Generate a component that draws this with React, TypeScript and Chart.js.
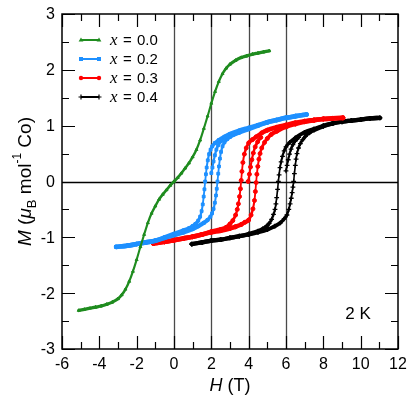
import React, { useEffect, useRef } from "react";
import { Chart, registerables } from "chart.js";
Chart.register(...registerables);

// ---- axis / labels ----
const X_MIN = -6, X_MAX = 12, Y_MIN = -3, Y_MAX = 3;
const X_TICKS = [-6, -4, -2, 0, 2, 4, 6, 8, 10, 12];
const Y_TICKS = [-3, -2, -1, 0, 1, 2, 3];
const REF_H = [0, 2, 4, 6];
const LEGEND_LABELS = ["0.0", "0.2", "0.3", "0.4"];
const COLORS = ["#1f8c1f", "#1e90ff", "#ff0000", "#000000"];
const ANNOTATION = "2 K";

// ---- x = 0.0 (green) ----
const GREEN_H = [-5.1, -4.8, -4.5, -4.2, -3.9, -3.6, -3.3, -3.0, -2.8, -2.6, -2.4, -2.2, -2.0, -1.8, -1.6, -1.4, -1.2, -1.0, -0.8, -0.6, -0.4, -0.2, 0, 0.2, 0.4, 0.6, 0.8, 1.0, 1.2, 1.4, 1.6, 1.8, 2.0, 2.2, 2.4, 2.6, 2.8, 3.0, 3.3, 3.6, 3.9, 4.2, 4.5, 4.8, 5.1];
const GREEN_M = [-2.31, -2.29, -2.27, -2.25, -2.23, -2.20, -2.16, -2.10, -2.03, -1.93, -1.79, -1.61, -1.40, -1.17, -0.95, -0.74, -0.57, -0.44, -0.32, -0.23, -0.15, -0.07, 0, 0.07, 0.15, 0.24, 0.33, 0.44, 0.57, 0.74, 0.95, 1.17, 1.40, 1.61, 1.79, 1.93, 2.03, 2.10, 2.17, 2.22, 2.25, 2.28, 2.30, 2.32, 2.34];

// ---- x = 0.2 (blue) ----
const BLUE_UPPER_H = [-3.1, -2.5, -2.0, -1.5, -1.0, -0.5, 0.0, 0.5, 0.8, 1.0, 1.15, 1.3, 1.4, 1.48, 1.54, 1.59, 1.63, 1.67, 1.71, 1.75, 1.81, 1.88, 1.96, 2.05, 2.2, 2.4, 2.7, 3.0, 3.5, 4.0, 4.5, 5.0, 5.5, 6.0, 6.5, 7.1];
const BLUE_UPPER_M = [-1.17, -1.15, -1.12, -1.09, -1.06, -1.0, -0.94, -0.88, -0.84, -0.80, -0.76, -0.70, -0.63, -0.53, -0.41, -0.27, -0.14, 0.0, 0.13, 0.25, 0.38, 0.49, 0.57, 0.63, 0.69, 0.74, 0.80, 0.85, 0.91, 0.96, 1.01, 1.06, 1.10, 1.14, 1.17, 1.20];
const BLUE_LOWER_H = [-3.1, -2.5, -2.0, -1.5, -1.0, -0.5, 0.0, 0.5, 1.0, 1.3, 1.6, 1.8, 1.95, 2.04, 2.12, 2.19, 2.25, 2.29, 2.33, 2.37, 2.41, 2.46, 2.52, 2.6, 2.7, 2.85, 3.0, 3.2, 3.5, 4.0, 4.5, 5.0, 5.5, 6.0, 6.5, 7.1];
const BLUE_LOWER_M = [-1.17, -1.15, -1.12, -1.09, -1.06, -1.01, -0.96, -0.91, -0.85, -0.80, -0.74, -0.69, -0.63, -0.57, -0.49, -0.38, -0.25, -0.13, 0.0, 0.14, 0.27, 0.41, 0.53, 0.63, 0.70, 0.76, 0.80, 0.84, 0.88, 0.94, 1.0, 1.06, 1.10, 1.14, 1.17, 1.20];
const BLUE_VIRGIN_H = [2.0, 2.06, 2.12, 2.19, 2.27, 2.37, 2.5, 2.65];
const BLUE_VIRGIN_M = [0.15, 0.25, 0.36, 0.47, 0.57, 0.65, 0.72, 0.77];

// ---- x = 0.3 (red) ----
const RED_UPPER_H = [-1.1, -0.5, 0.0, 0.5, 1.0, 1.5, 2.0, 2.5, 2.8, 3.0, 3.15, 3.3, 3.39, 3.45, 3.51, 3.56, 3.6, 3.64, 3.69, 3.77, 3.87, 4.0, 4.2, 4.4, 4.7, 5.0, 5.5, 6.0, 6.5, 7.0, 7.5, 8.0, 8.5, 9.05];
const RED_UPPER_M = [-1.11, -1.08, -1.05, -1.02, -0.99, -0.95, -0.90, -0.86, -0.82, -0.76, -0.70, -0.60, -0.50, -0.40, -0.27, -0.13, 0.02, 0.18, 0.34, 0.49, 0.60, 0.69, 0.75, 0.80, 0.87, 0.92, 0.97, 1.01, 1.05, 1.08, 1.10, 1.12, 1.13, 1.14];
const RED_LOWER_H = [-1.1, -0.5, 0.0, 0.5, 1.0, 1.5, 2.0, 2.5, 3.0, 3.3, 3.6, 3.8, 4.0, 4.13, 4.23, 4.31, 4.36, 4.4, 4.44, 4.49, 4.55, 4.61, 4.7, 4.85, 5.0, 5.2, 5.5, 6.0, 6.5, 7.0, 7.5, 8.0, 8.5, 9.05];
const RED_LOWER_M = [-1.11, -1.08, -1.05, -1.02, -0.99, -0.95, -0.91, -0.88, -0.84, -0.81, -0.77, -0.73, -0.69, -0.60, -0.49, -0.34, -0.18, -0.02, 0.13, 0.27, 0.40, 0.50, 0.60, 0.70, 0.77, 0.84, 0.90, 0.98, 1.03, 1.07, 1.10, 1.12, 1.13, 1.14];
const RED_VIRGIN_H = [3.97, 4.04, 4.1, 4.17, 4.25, 4.35, 4.48, 4.65];
const RED_VIRGIN_M = [0.0, 0.13, 0.26, 0.39, 0.51, 0.62, 0.71, 0.79];

// ---- x = 0.4 (black) ----
const BLACK_UPPER_H = [0.95, 1.5, 2.0, 2.5, 3.0, 3.5, 4.0, 4.5, 4.75, 4.96, 5.1, 5.23, 5.33, 5.41, 5.46, 5.5, 5.55, 5.59, 5.63, 5.68, 5.74, 5.81, 5.9, 6.0, 6.2, 6.5, 7.0, 7.5, 8.0, 8.5, 9.0, 9.5, 10.0, 10.5, 11.03];
const BLACK_UPPER_M = [-1.12, -1.09, -1.06, -1.04, -1.01, -0.98, -0.94, -0.89, -0.85, -0.80, -0.75, -0.68, -0.59, -0.50, -0.40, -0.29, -0.14, 0.0, 0.12, 0.25, 0.35, 0.45, 0.55, 0.62, 0.70, 0.78, 0.88, 0.94, 1.0, 1.04, 1.07, 1.09, 1.11, 1.13, 1.14];
const BLACK_LOWER_H = [0.95, 1.5, 2.0, 2.5, 3.0, 3.5, 4.0, 4.5, 5.0, 5.4, 5.7, 5.9, 6.05, 6.15, 6.22, 6.28, 6.33, 6.37, 6.41, 6.45, 6.5, 6.54, 6.59, 6.67, 6.77, 6.9, 7.04, 7.25, 7.5, 8.0, 8.5, 9.0, 9.5, 10.0, 10.5, 11.03];
const BLACK_LOWER_M = [-1.12, -1.09, -1.06, -1.04, -1.01, -0.98, -0.95, -0.91, -0.86, -0.80, -0.74, -0.67, -0.60, -0.50, -0.40, -0.30, -0.20, -0.10, 0.0, 0.14, 0.29, 0.40, 0.50, 0.60, 0.68, 0.75, 0.81, 0.87, 0.92, 0.99, 1.04, 1.07, 1.09, 1.11, 1.13, 1.14];
const BLACK_VIRGIN_H = [6.0, 6.06, 6.12, 6.19, 6.27, 6.37, 6.5, 6.68];
const BLACK_VIRGIN_M = [0.19, 0.29, 0.39, 0.49, 0.58, 0.66, 0.73, 0.79];

const SANS = "'Liberation Sans', Arial, Helvetica, sans-serif";
const SERIF = "'Liberation Serif', 'Times New Roman', serif";
const POINT_STYLES = ["triangle", "rect", "circle", "cross"];

function pts(h: number[], m: number[]) {
  return h.map((v, i) => ({ x: v, y: m[i] }));
}

function mk(series: number, h: number[], m: number[], thin: number, extra: number, radius: number) {
  const color = COLORS[series];
  return {
    data: pts(h, m),
    showLine: true,
    borderColor: color,
    backgroundColor: color,
    pointStyle: POINT_STYLES[series],
    pointRadius: radius,
    pointBorderWidth: series === 3 ? 1.3 : 1,
    pointBorderColor: color,
    pointBackgroundColor: color,
    cubicInterpolationMode: "monotone",
    borderCapStyle: "round",
    borderJoinStyle: "round",
    segment: {
      borderWidth: (ctx: any) => {
        const dx = Math.abs(ctx.p1.x - ctx.p0.x);
        const dy = Math.abs(ctx.p1.y - ctx.p0.y);
        const len = Math.hypot(dx, dy) || 1;
        return thin + extra * (dx / len);
      },
    },
  };
}

function drawRich(ctx: CanvasRenderingContext2D, pieces: { t: string; f: string; dy: number }[], cx: number) {
  let total = 0;
  for (const p of pieces) { ctx.font = p.f; total += ctx.measureText(p.t).width; }
  let x = cx - total / 2;
  for (const p of pieces) {
    ctx.font = p.f;
    ctx.fillText(p.t, x, p.dy);
    x += ctx.measureText(p.t).width;
  }
}

const decor = {
  id: "decor",
  beforeDatasetsDraw(chart: any) {
    const { ctx, chartArea: a, scales } = chart;
    const xs = scales.x, ys = scales.y;
    ctx.save();
    ctx.strokeStyle = "#4a4a4a";
    ctx.lineWidth = 1.3;
    for (const v of REF_H) {
      const px = Math.round(xs.getPixelForValue(v)) + 0.5;
      ctx.beginPath(); ctx.moveTo(px, a.top); ctx.lineTo(px, a.bottom); ctx.stroke();
    }
    ctx.strokeStyle = "#000";
    ctx.lineWidth = 1.4;
    const py = Math.round(ys.getPixelForValue(0)) + 0.5;
    ctx.beginPath(); ctx.moveTo(a.left, py); ctx.lineTo(a.right, py); ctx.stroke();
    ctx.restore();
  },
  afterDatasetsDraw(chart: any) {
    const { ctx, chartArea: a, scales } = chart;
    const xs = scales.x, ys = scales.y;
    ctx.save();
    // frame
    ctx.strokeStyle = "#000";
    ctx.lineWidth = 1.5;
    ctx.strokeRect(a.left, a.top, a.right - a.left, a.bottom - a.top);
    // ticks
    ctx.lineWidth = 1.2;
    ctx.beginPath();
    for (let v = X_MIN; v <= X_MAX; v += 1) {
      const len = v % 2 === 0 ? 13 : 7;
      const px = Math.round(xs.getPixelForValue(v)) + 0.5;
      ctx.moveTo(px, a.bottom); ctx.lineTo(px, a.bottom - len);
      ctx.moveTo(px, a.top); ctx.lineTo(px, a.top + len);
    }
    for (let v = Y_MIN; v <= Y_MAX + 1e-9; v += 0.5) {
      const len = Math.abs(v - Math.round(v)) < 1e-6 ? 13 : 7;
      const py = Math.round(ys.getPixelForValue(v)) + 0.5;
      ctx.moveTo(a.left, py); ctx.lineTo(a.left + len, py);
      ctx.moveTo(a.right, py); ctx.lineTo(a.right - len, py);
    }
    ctx.stroke();
    // tick labels
    ctx.fillStyle = "#000";
    ctx.font = `16px ${SANS}`;
    ctx.textAlign = "center";
    ctx.textBaseline = "alphabetic";
    for (const v of X_TICKS) ctx.fillText(String(v), xs.getPixelForValue(v), a.bottom + 20);
    ctx.textAlign = "right";
    ctx.textBaseline = "middle";
    for (const v of Y_TICKS) ctx.fillText(String(v), a.left - 7, ys.getPixelForValue(v) + 1);
    // x title
    ctx.textAlign = "left";
    ctx.textBaseline = "alphabetic";
    ctx.save();
    ctx.translate(0, 391);
    drawRich(ctx, [
      { t: "H", f: `italic 18px ${SANS}`, dy: 0 },
      { t: " (T)", f: `18px ${SANS}`, dy: 0 },
    ], (a.left + a.right) / 2);
    ctx.restore();
    // y title
    ctx.save();
    ctx.translate(31, (a.top + a.bottom) / 2);
    ctx.rotate(-Math.PI / 2);
    drawRich(ctx, [
      { t: "M", f: `italic 19px ${SANS}`, dy: 0 },
      { t: " (", f: `19px ${SANS}`, dy: 0 },
      { t: "\u03bc", f: `italic 19px ${SANS}`, dy: 0 },
      { t: "B", f: `13px ${SANS}`, dy: 5 },
      { t: " mol", f: `19px ${SANS}`, dy: 0 },
      { t: "-1", f: `12px ${SANS}`, dy: -10 },
      { t: " Co)", f: `19px ${SANS}`, dy: 0 },
    ], 0);
    ctx.restore();
    // legend
    for (let i = 0; i < LEGEND_LABELS.length; i++) {
      const yy = 40 + i * 19;
      const c = COLORS[i];
      ctx.strokeStyle = c;
      ctx.fillStyle = c;
      ctx.lineWidth = 2;
      ctx.beginPath(); ctx.moveTo(81, yy); ctx.lineTo(99, yy); ctx.stroke();
      for (const mx of [81, 99]) {
        ctx.beginPath();
        if (i === 0) { ctx.moveTo(mx, yy - 2.6); ctx.lineTo(mx + 2.4, yy + 1.6); ctx.lineTo(mx - 2.4, yy + 1.6); ctx.closePath(); ctx.fill(); }
        else if (i === 1) { ctx.fillRect(mx - 2, yy - 2, 4, 4); }
        else if (i === 2) { ctx.arc(mx, yy, 2.2, 0, Math.PI * 2); ctx.fill(); }
        else { ctx.lineWidth = 1.2; ctx.moveTo(mx - 2.5, yy); ctx.lineTo(mx + 2.5, yy); ctx.moveTo(mx, yy - 2.5); ctx.lineTo(mx, yy + 2.5); ctx.stroke(); ctx.lineWidth = 2; }
      }
      ctx.fillStyle = "#000";
      ctx.textAlign = "left";
      ctx.textBaseline = "alphabetic";
      ctx.font = `italic 17px ${SERIF}`;
      ctx.fillText("x", 110, yy + 5);
      ctx.font = `15px ${SANS}`;
      ctx.fillText("=", 123, yy + 5);
      ctx.fillText(LEGEND_LABELS[i], 137, yy + 5);
    }
    // annotation
    ctx.font = `17px ${SANS}`;
    ctx.textAlign = "center";
    ctx.fillText(ANNOTATION, 358, 319);
    ctx.restore();
  },
};

export default function App() {
  const ref = useRef<HTMLCanvasElement | null>(null);
  useEffect(() => {
    document.body.style.margin = "0";
    const canvas = ref.current!;
    const chart = new Chart(canvas, {
      type: "scatter",
      data: {
        datasets: [
          mk(0, GREEN_H, GREEN_M, 1.6, 1.7, 1.7),
          mk(1, BLUE_UPPER_H, BLUE_UPPER_M, 1.5, 3.2, 2),
          mk(1, BLUE_LOWER_H, BLUE_LOWER_M, 1.5, 3.2, 2),
          mk(1, BLUE_VIRGIN_H, BLUE_VIRGIN_M, 1.5, 3.2, 2),
          mk(2, RED_UPPER_H, RED_UPPER_M, 1.5, 3.2, 2),
          mk(2, RED_LOWER_H, RED_LOWER_M, 1.5, 3.2, 2),
          mk(2, RED_VIRGIN_H, RED_VIRGIN_M, 1.5, 3.2, 2),
          mk(3, BLACK_UPPER_H, BLACK_UPPER_M, 1.3, 3.0, 2.4),
          mk(3, BLACK_LOWER_H, BLACK_LOWER_M, 1.3, 3.0, 2.4),
          mk(3, BLACK_VIRGIN_H, BLACK_VIRGIN_M, 1.3, 3.0, 2.4),
        ] as any,
      },
      options: {
        animation: false,
        responsive: false,
        devicePixelRatio: 1,
        layout: { padding: { left: 62, right: 18, top: 14, bottom: 50 } },
        scales: {
          x: { type: "linear", min: X_MIN, max: X_MAX, display: false },
          y: { type: "linear", min: Y_MIN, max: Y_MAX, display: false },
        },
        plugins: { legend: { display: false }, tooltip: { enabled: false } },
        events: [],
      },
      plugins: [decor],
    });
    return () => chart.destroy();
  }, []);
  return (
    <div style={{ position: "fixed", left: 0, top: 0, width: 416, height: 399, background: "#fff" }}>
      <canvas ref={ref} width={416} height={399} />
    </div>
  );
}
